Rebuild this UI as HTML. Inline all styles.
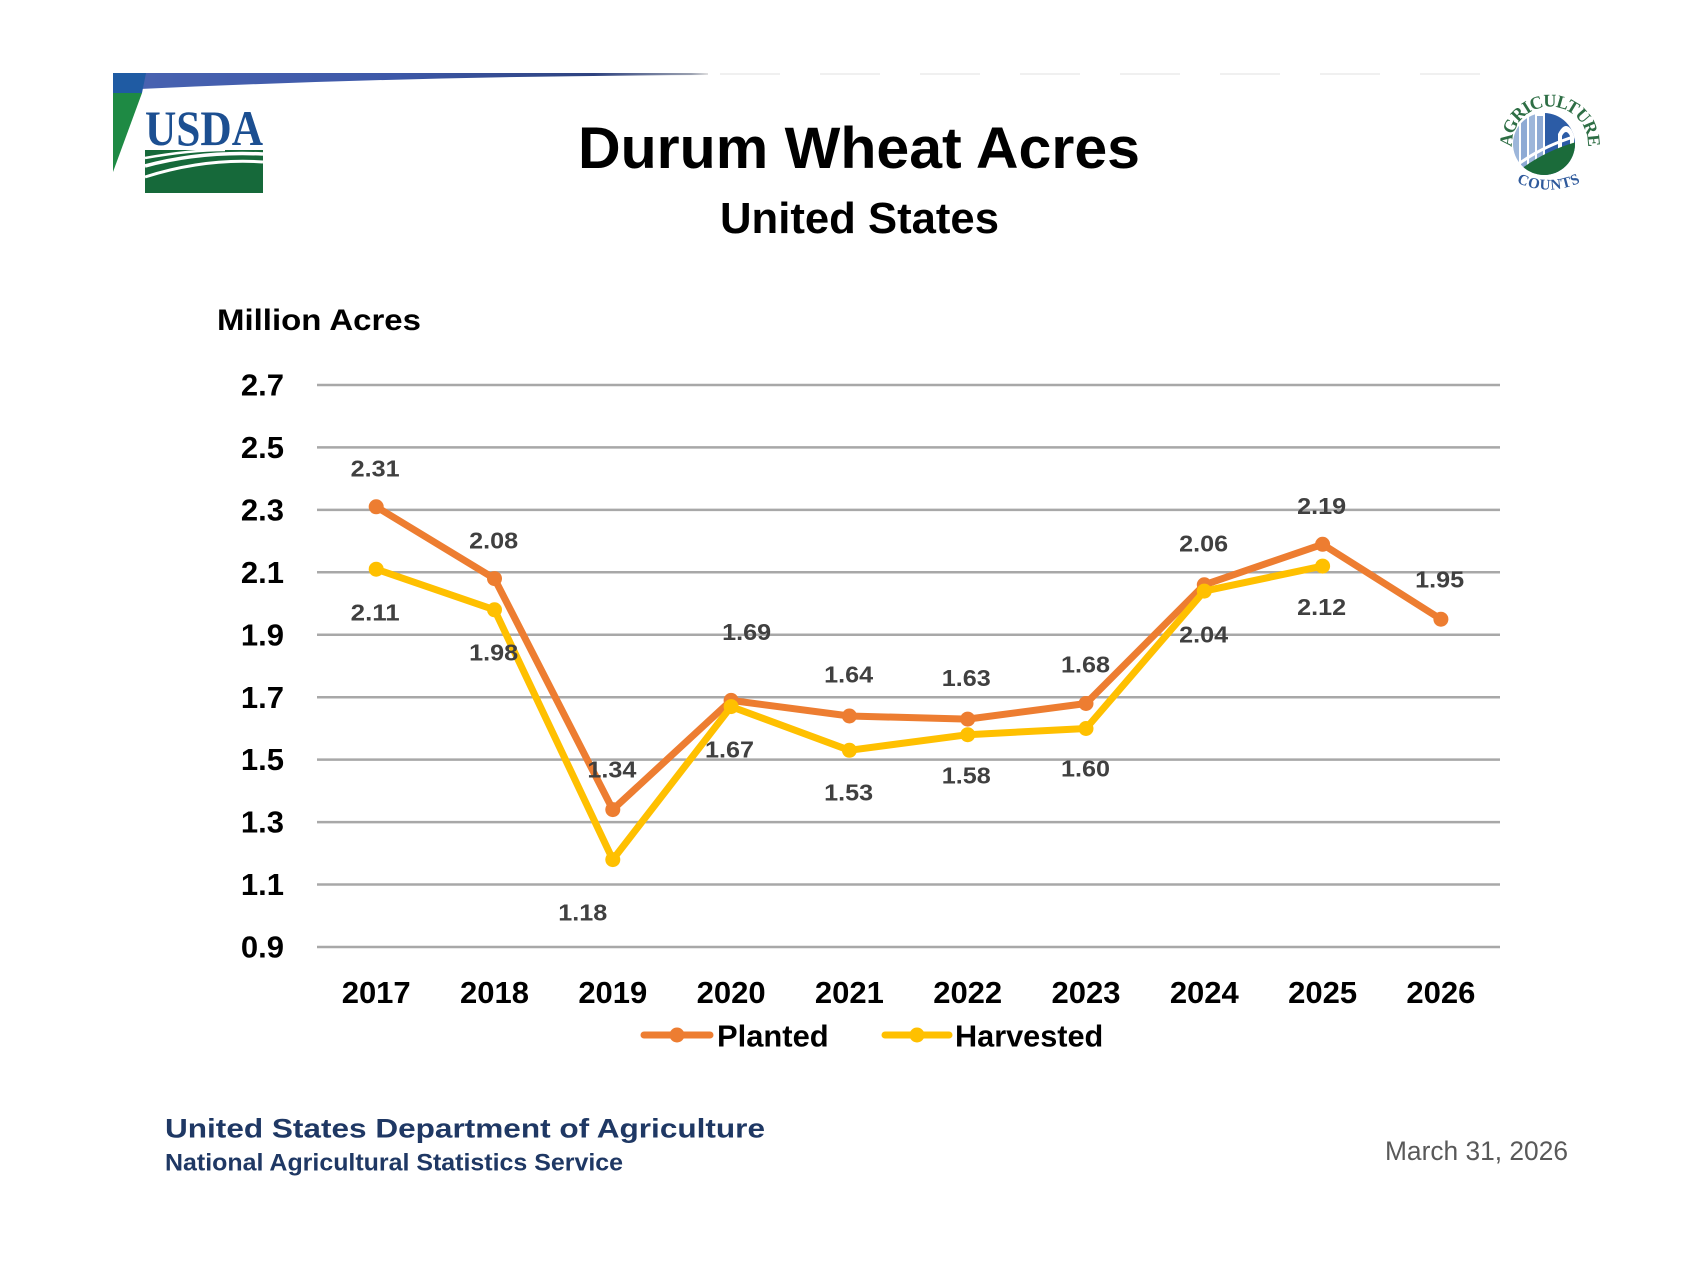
<!DOCTYPE html>
<html>
<head>
<meta charset="utf-8">
<style>
  html,body{margin:0;padding:0;background:#fff;}
  svg{display:block;}
  text{font-family:"Liberation Sans",sans-serif;}
</style>
</head>
<body>
<svg width="1707" height="1280" viewBox="0 0 1707 1280" xmlns="http://www.w3.org/2000/svg">
  <defs>
    <linearGradient id="bar" x1="0" y1="0" x2="1" y2="0">
      <stop offset="0" stop-color="#4862b0"/>
      <stop offset="0.45" stop-color="#3d58a8"/>
      <stop offset="0.8" stop-color="#2e427f"/>
      <stop offset="0.97" stop-color="#9aa0b0"/>
      <stop offset="1" stop-color="#e0e0e0"/>
    </linearGradient>
    <path id="arcTop" d="M1512.4,150.1 A38,38 0 1 1 1587.6,150.1"/>
    <path id="arcBot" d="M1512,180 A74,74 0 0 0 1585,180"/>
    <clipPath id="inner"><circle cx="1544" cy="144" r="31"/></clipPath>
  </defs>
  <rect width="1707" height="1280" fill="#ffffff"/>

  <!-- top banner -->
  <path d="M140,73 L708,73 L708,75 Q420,76 140,89 Z" fill="url(#bar)"/>
  <line x1="720" y1="74" x2="1492" y2="74" stroke="#f0f0f0" stroke-width="2" stroke-dasharray="60,40"/>
  <polygon points="113,73 146,73 142,93 113,93" fill="#1f5ba3"/>
  <polygon points="113,93 142,93 113,172" fill="#1e8a44"/>

  <!-- USDA logo -->
  <text x="145" y="145" font-weight="bold" font-size="50" fill="#1c4f91" textLength="118" lengthAdjust="spacingAndGlyphs" style="font-family:'Liberation Serif',serif">USDA</text>
  <rect x="145" y="150" width="118" height="43" fill="#16693a"/>
  <path d="M145,166 Q200,151 263,154" stroke="#ffffff" stroke-width="3.5" fill="none"/>
  <path d="M145,177 Q205,158 263,162" stroke="#ffffff" stroke-width="3" fill="none"/>
  <path d="M145,158 Q190,150 225,150" stroke="#ffffff" stroke-width="2.5" fill="none"/>

  <!-- Agriculture Counts logo -->
  <g>
    <g clip-path="url(#inner)">
      <rect x="1510" y="110" width="70" height="70" fill="#ffffff"/>
      <rect x="1513" y="126" width="6" height="50" fill="#9db6da"/>
      <rect x="1521" y="118" width="6" height="58" fill="#8eaad4"/>
      <rect x="1529" y="114" width="6" height="62" fill="#9db6da"/>
      <rect x="1537" y="116" width="6" height="60" fill="#8eaad4"/>
      <rect x="1545" y="108" width="34" height="72" fill="#2c5ca6"/>
      <path d="M1558,160 L1558,134 Q1566,118 1574,134 L1574,160 Z" fill="#ffffff"/>
      <path d="M1562,160 L1562,136 Q1566,128 1570,136 L1570,160 Z" fill="#2c5ca6"/>
      <path d="M1508,180 Q1538,152 1580,141 L1580,182 L1508,182 Z" fill="#1b6b3a"/>
      <path d="M1508,172 Q1538,147 1580,135" stroke="#ffffff" stroke-width="3" fill="none"/>
    </g>
    <text font-weight="bold" font-size="18" fill="#2e6e45" style="font-family:'Liberation Serif',serif"><textPath href="#arcTop" startOffset="50%" text-anchor="middle" textLength="124" lengthAdjust="spacing">AGRICULTURE</textPath></text>
    <text font-weight="bold" font-size="15" fill="#2f5a9c" style="font-family:'Liberation Serif',serif"><textPath href="#arcBot" startOffset="50%" text-anchor="middle" textLength="66" lengthAdjust="spacing">COUNTS</textPath></text>
  </g>

  <!-- titles -->
  <text x="859" y="168" font-size="58" font-weight="bold" fill="#000" text-anchor="middle" textLength="562" lengthAdjust="spacingAndGlyphs">Durum Wheat Acres</text>
  <text x="859.5" y="233" font-size="44" font-weight="bold" fill="#000" text-anchor="middle" textLength="279" lengthAdjust="spacingAndGlyphs">United States</text>
  <text x="217" y="330" font-size="30" font-weight="bold" fill="#000" textLength="204" lengthAdjust="spacingAndGlyphs">Million Acres</text>

  <!-- gridlines -->
  <g stroke="#a8a8a8" stroke-width="2.5">
    <line x1="317" y1="385" x2="1500" y2="385"/>
    <line x1="317" y1="447.4" x2="1500" y2="447.4"/>
    <line x1="317" y1="509.9" x2="1500" y2="509.9"/>
    <line x1="317" y1="572.3" x2="1500" y2="572.3"/>
    <line x1="317" y1="634.8" x2="1500" y2="634.8"/>
    <line x1="317" y1="697.2" x2="1500" y2="697.2"/>
    <line x1="317" y1="759.6" x2="1500" y2="759.6"/>
    <line x1="317" y1="822.1" x2="1500" y2="822.1"/>
    <line x1="317" y1="884.5" x2="1500" y2="884.5"/>
    <line x1="317" y1="947" x2="1500" y2="947"/>
  </g>

  <!-- y labels -->
  <g font-size="31" font-weight="bold" fill="#000" text-anchor="end">
    <text x="284" y="395.6">2.7</text>
    <text x="284" y="458">2.5</text>
    <text x="284" y="520.5">2.3</text>
    <text x="284" y="582.9">2.1</text>
    <text x="284" y="645.4">1.9</text>
    <text x="284" y="707.8">1.7</text>
    <text x="284" y="770.2">1.5</text>
    <text x="284" y="832.7">1.3</text>
    <text x="284" y="895.1">1.1</text>
    <text x="284" y="957.6">0.9</text>
  </g>

  <!-- x labels -->
  <g font-size="31" font-weight="bold" fill="#000" text-anchor="middle">
    <text x="376.2" y="1003">2017</text>
    <text x="494.5" y="1003">2018</text>
    <text x="612.8" y="1003">2019</text>
    <text x="731.1" y="1003">2020</text>
    <text x="849.4" y="1003">2021</text>
    <text x="967.7" y="1003">2022</text>
    <text x="1086" y="1003">2023</text>
    <text x="1204.3" y="1003">2024</text>
    <text x="1322.6" y="1003">2025</text>
    <text x="1440.9" y="1003">2026</text>
  </g>

  <!-- Planted series -->
  <polyline fill="none" stroke="#ED7D31" stroke-width="7" stroke-linejoin="round" stroke-linecap="round"
    points="376.2,506.8 494.5,578.6 612.8,809.6 731.1,700.4 849.4,716 967.7,719.1 1086,703.5 1204.3,584.8 1322.6,544.3 1440.9,619.2"/>
  <g fill="#ED7D31">
    <circle cx="376.2" cy="506.8" r="7.5"/>
    <circle cx="494.5" cy="578.6" r="7.5"/>
    <circle cx="612.8" cy="809.6" r="7.5"/>
    <circle cx="731.1" cy="700.4" r="7.5"/>
    <circle cx="849.4" cy="716" r="7.5"/>
    <circle cx="967.7" cy="719.1" r="7.5"/>
    <circle cx="1086" cy="703.5" r="7.5"/>
    <circle cx="1204.3" cy="584.8" r="7.5"/>
    <circle cx="1322.6" cy="544.3" r="7.5"/>
    <circle cx="1440.9" cy="619.2" r="7.5"/>
  </g>

  <!-- Harvested series -->
  <polyline fill="none" stroke="#FFC000" stroke-width="7" stroke-linejoin="round" stroke-linecap="round"
    points="376.2,569.2 494.5,609.8 612.8,859.6 731.1,706.6 849.4,750.3 967.7,734.7 1086,728.5 1204.3,591.1 1322.6,566.1"/>
  <g fill="#FFC000">
    <circle cx="376.2" cy="569.2" r="7.5"/>
    <circle cx="494.5" cy="609.8" r="7.5"/>
    <circle cx="612.8" cy="859.6" r="7.5"/>
    <circle cx="731.1" cy="706.6" r="7.5"/>
    <circle cx="849.4" cy="750.3" r="7.5"/>
    <circle cx="967.7" cy="734.7" r="7.5"/>
    <circle cx="1086" cy="728.5" r="7.5"/>
    <circle cx="1204.3" cy="591.1" r="7.5"/>
    <circle cx="1322.6" cy="566.1" r="7.5"/>
  </g>

  <!-- data labels -->
  <g font-size="23.5" font-weight="bold" fill="#404040" text-anchor="middle">
    <text x="375.2" y="476.6" textLength="49" lengthAdjust="spacingAndGlyphs">2.31</text>
    <text x="375.2" y="620.5" textLength="49" lengthAdjust="spacingAndGlyphs">2.11</text>
    <text x="493.7" y="548.3" textLength="49" lengthAdjust="spacingAndGlyphs">2.08</text>
    <text x="493.7" y="660.4" textLength="49" lengthAdjust="spacingAndGlyphs">1.98</text>
    <text x="611.9" y="777.4" textLength="49" lengthAdjust="spacingAndGlyphs">1.34</text>
    <text x="582.8" y="920.5" textLength="49" lengthAdjust="spacingAndGlyphs">1.18</text>
    <text x="746.7" y="640" textLength="49" lengthAdjust="spacingAndGlyphs">1.69</text>
    <text x="729.5" y="757.3" textLength="49" lengthAdjust="spacingAndGlyphs">1.67</text>
    <text x="848.7" y="682.7" textLength="49" lengthAdjust="spacingAndGlyphs">1.64</text>
    <text x="848.7" y="800.7" textLength="49" lengthAdjust="spacingAndGlyphs">1.53</text>
    <text x="966.3" y="686" textLength="49" lengthAdjust="spacingAndGlyphs">1.63</text>
    <text x="966.3" y="783.3" textLength="49" lengthAdjust="spacingAndGlyphs">1.58</text>
    <text x="1085.5" y="672.3" textLength="49" lengthAdjust="spacingAndGlyphs">1.68</text>
    <text x="1085.5" y="776.7" textLength="49" lengthAdjust="spacingAndGlyphs">1.60</text>
    <text x="1203.7" y="551.7" textLength="49" lengthAdjust="spacingAndGlyphs">2.06</text>
    <text x="1203.7" y="642.3" textLength="49" lengthAdjust="spacingAndGlyphs">2.04</text>
    <text x="1321.7" y="514" textLength="49" lengthAdjust="spacingAndGlyphs">2.19</text>
    <text x="1321.7" y="615" textLength="49" lengthAdjust="spacingAndGlyphs">2.12</text>
    <text x="1439.7" y="587.3" textLength="49" lengthAdjust="spacingAndGlyphs">1.95</text>
  </g>

  <!-- legend -->
  <line x1="644" y1="1035" x2="710" y2="1035" stroke="#ED7D31" stroke-width="7" stroke-linecap="round"/>
  <circle cx="677" cy="1035" r="7.5" fill="#ED7D31"/>
  <text x="717" y="1046.7" font-size="31" font-weight="bold" fill="#000" textLength="111.7" lengthAdjust="spacingAndGlyphs">Planted</text>
  <line x1="885" y1="1035" x2="949" y2="1035" stroke="#FFC000" stroke-width="7" stroke-linecap="round"/>
  <circle cx="917" cy="1035" r="7.5" fill="#FFC000"/>
  <text x="955" y="1046.7" font-size="31" font-weight="bold" fill="#000" textLength="148.3" lengthAdjust="spacingAndGlyphs">Harvested</text>

  <!-- footer -->
  <text x="165" y="1137.3" font-size="27" font-weight="bold" fill="#1f3864" textLength="600" lengthAdjust="spacingAndGlyphs">United States Department of Agriculture</text>
  <text x="165" y="1170.7" font-size="24" font-weight="bold" fill="#1f3864" textLength="458" lengthAdjust="spacingAndGlyphs">National Agricultural Statistics Service</text>
  <text x="1385" y="1160" font-size="27" fill="#595959" textLength="183" lengthAdjust="spacingAndGlyphs">March 31, 2026</text>
</svg>
</body>
</html>
